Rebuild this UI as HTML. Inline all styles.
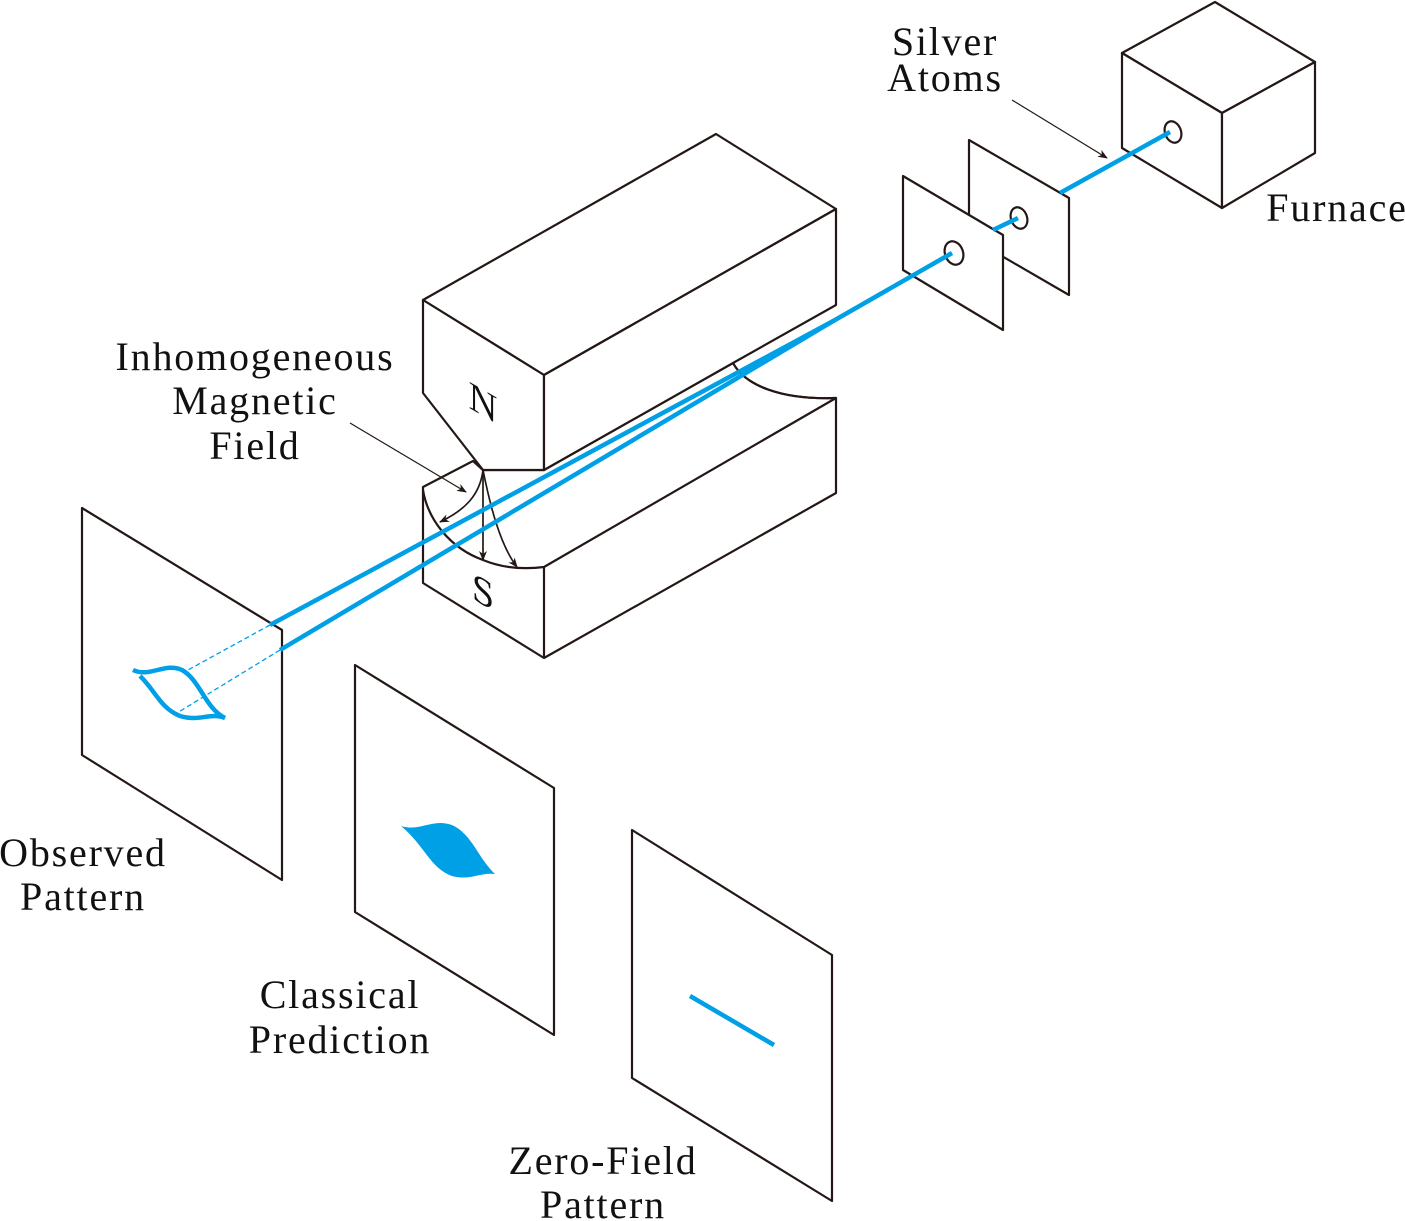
<!DOCTYPE html>
<html><head><meta charset="utf-8"><style>
html,body{margin:0;padding:0;background:#fff}
svg{display:block}
text{font-family:"Liberation Serif",serif;font-size:40px;letter-spacing:1.8px;fill:#111}
</style></head><body>
<svg width="1405" height="1221" viewBox="0 0 1405 1221" xmlns="http://www.w3.org/2000/svg">
<defs>
<marker id="ah" markerWidth="10" markerHeight="8" refX="9" refY="4" orient="auto" markerUnits="userSpaceOnUse">
<path d="M0,0 L10,4 L0,8 L3,4 Z" fill="#231815"/>
</marker>
</defs>
<g fill="#fff" stroke="#231815" stroke-width="2.2" stroke-linejoin="round">
<path d="M1122,53 L1215,2 L1315,62 L1222,113 Z"/>
<path d="M1122,53 L1222,113 L1222,208 L1122,148 Z"/>
<path d="M1222,113 L1315,62 L1315,153 L1222,208 Z"/>
<ellipse cx="1173" cy="132" rx="8" ry="11" transform="rotate(-20 1173 132)"/>
<path d="M969,140 L1069,198 L1069,295 L969,237 Z"/>
<ellipse cx="1019" cy="218" rx="8" ry="11" transform="rotate(-20 1019 218)"/>
<path d="M903,176 L1003,235 L1003,330 L903,270 Z"/>
<ellipse cx="954" cy="253" rx="9" ry="12" transform="rotate(-20 954 253)"/>
<path d="M423,487 L473,461 L483,470 L544,470 L733,363 C745,385 780,400 836,398 L836,493 L544,658 L423,583 Z"/>
<path d="M423,490 C428,520 450,548 483,560 C500,567 520,570 544,567 L836,398" fill="none"/>
<path d="M544,567 L544,658" fill="none"/>
<path d="M733,363 C745,385 780,400 836,398" fill="none"/>
<path d="M423,300 L716,134 L836,209 L544,375 Z"/>
<path d="M423,300 L544,375 L544,470 L483,470 L423,393 Z"/>
<path d="M544,375 L836,209 L836,305 L733,363 L544,470 Z"/>
<path d="M82,508 L282,630 L282,880 L82,755 Z"/>
<path d="M355,665 L554,788 L554,1035 L355,912 Z"/>
<path d="M632,830 L832,955 L832,1201 L632,1078 Z"/>
</g>
<g fill="none" stroke="#231815" stroke-width="1.7">
<path d="M483,470 C480,495 465,510 440,522" marker-end="url(#ah)"/>
<path d="M483,470 L483,560" marker-end="url(#ah)"/>
<path d="M483,470 C490,505 500,545 517,567" marker-end="url(#ah)"/>
<path d="M350,423 L466,492" stroke-width="1.2" marker-end="url(#ah)"/>
<path d="M1012,100 L1107,158" stroke-width="1.2" marker-end="url(#ah)"/>
</g>
<g stroke="#00a0e6" stroke-width="4.5" fill="none">
<line x1="1060" y1="193" x2="1170" y2="132"/>
<line x1="993" y1="230" x2="1018" y2="218"/>
<line x1="952" y1="253" x2="835" y2="320"/>
<line x1="835" y1="320" x2="270" y2="625"/>
<line x1="835" y1="320" x2="280" y2="650"/>
<line x1="690" y1="996" x2="774" y2="1045"/>
</g>
<g stroke="#00a0e6" stroke-width="1.3" stroke-dasharray="5,3" fill="none">
<line x1="270" y1="625" x2="188" y2="670"/>
<line x1="280" y1="650" x2="177" y2="713"/>
</g>
<path d="M133,670 C150,678 165,662 182,670 C200,680 205,708 225,718 C210,712 200,722 180,716 C160,708 155,690 140,676" fill="none" stroke="#00a0e6" stroke-width="4.5"/>
<path d="M401,826 C420,832 432,818 452,825 C472,834 478,858 495,874 C480,872 470,881 452,876 C430,868 425,846 401,826 Z" fill="#00a0e6"/>
<text x="945" y="55" text-anchor="middle">Silver</text>
<text x="945" y="91" text-anchor="middle">Atoms</text>
<text x="1337" y="221" text-anchor="middle">Furnace</text>
<text x="255" y="370" text-anchor="middle">Inhomogeneous</text>
<text x="255" y="414" text-anchor="middle">Magnetic</text>
<text x="255" y="459" text-anchor="middle">Field</text>
<text x="83" y="866" text-anchor="middle">Observed</text>
<text x="83" y="910" text-anchor="middle">Pattern</text>
<text x="340" y="1008" text-anchor="middle">Classical</text>
<text x="340" y="1053" text-anchor="middle">Prediction</text>
<text x="603" y="1174" text-anchor="middle">Zero-Field</text>
<text x="603" y="1218" text-anchor="middle">Pattern</text>
<text x="483" y="416" text-anchor="middle" transform="skewY(30) translate(0,-279)" style="font-size:40px;letter-spacing:0">N</text>
<text x="483" y="605" text-anchor="middle" transform="skewY(30) translate(0,-279)" style="font-size:40px;letter-spacing:0">S</text>
</svg>
</body></html>
